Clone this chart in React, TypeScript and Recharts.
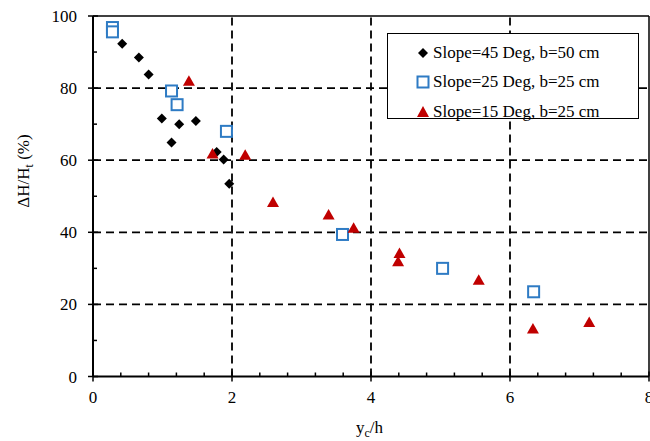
import React from "react";
import { ScatterChart, Scatter, XAxis, YAxis, ReferenceLine, Legend } from "recharts";

const s45X = [0.42, 0.66, 0.8, 0.99, 1.13, 1.24, 1.48, 1.78, 1.88, 1.96];
const s45Y = [92.3, 88.5, 83.8, 71.6, 64.9, 70.0, 70.9, 62.3, 60.2, 53.5];
const s25X = [0.28, 0.28, 1.13, 1.21, 1.92, 3.59, 5.03, 6.34];
const s25Y = [96.8, 95.6, 79.2, 75.4, 68.0, 39.4, 30.0, 23.5];
const s15X = [1.38, 1.72, 2.19, 2.59, 3.39, 3.75, 4.41, 4.39, 5.55, 6.33, 7.14];
const s15Y = [81.9, 61.7, 61.4, 48.3, 44.8, 41.1, 34.1, 31.8, 26.7, 13.2, 15.0];

const xTicks = [0, 0.4, 0.8, 1.2, 1.6, 2, 2.4, 2.8, 3.2, 3.6, 4, 4.4, 4.8, 5.2, 5.6, 6, 6.4, 6.8, 7.2, 7.6, 8];
const xMajor = [0, 2, 4, 6, 8];
const yTicks = [0, 10, 20, 30, 40, 50, 60, 70, 80, 90, 100];
const yMajor = [0, 20, 40, 60, 80, 100];
const gridX = [2, 4, 6];
const gridY = [20, 40, 60, 80];

const names = ["Slope=45 Deg, b=50 cm", "Slope=25 Deg, b=25 cm", "Slope=15 Deg, b=25 cm"];

const d45 = s45X.map((x, i) => ({ x, y: s45Y[i] }));
const d25 = s25X.map((x, i) => ({ x, y: s25Y[i] }));
const d15 = s15X.map((x, i) => ({ x, y: s15Y[i] }));

const FONT = "Liberation Serif";
const RED = "#c00000";
const BLUE = "#2e7bc4";

const Diamond = (p: any) => {
  const { cx, cy } = p;
  const r = 5;
  return <path d={`M${cx},${cy - r}L${cx + r},${cy}L${cx},${cy + r}L${cx - r},${cy}Z`} fill="#000" />;
};
const Square = (p: any) => {
  const { cx, cy } = p;
  const h = 5.5;
  return <rect x={cx - h} y={cy - h} width={2 * h} height={2 * h} fill="#fff" stroke={BLUE} strokeWidth={2} />;
};
const Triangle = (p: any) => {
  const { cx, cy } = p;
  return <path d={`M${cx},${cy - 6}L${cx + 6},${cy + 4.5}L${cx - 6},${cy + 4.5}Z`} fill={RED} />;
};

const XTick = (p: any) => {
  const { x, y, payload } = p;
  const major = xMajor.includes(payload.value);
  return (
    <g>
      <line x1={x} x2={x} y1={major ? y - 5 : y - 4} y2={major ? y + 5 : y} stroke="#000" strokeWidth={1.5} />
      {major && (
        <text x={x} y={y + 26} textAnchor="middle" fontFamily={FONT} fontSize={17} fill="#000">
          {payload.value}
        </text>
      )}
    </g>
  );
};
const YTick = (p: any) => {
  const { x, y, payload } = p;
  const major = yMajor.includes(payload.value);
  return (
    <g>
      <line x1={major ? x - 5 : x} x2={major ? x + 5 : x + 4} y1={y} y2={y} stroke="#000" strokeWidth={1.5} />
      {major && (
        <text x={x - 16} y={y + 6} textAnchor="end" fontFamily={FONT} fontSize={17} fill="#000">
          {payload.value}
        </text>
      )}
    </g>
  );
};

const LegendBox = () => {
  const icons = [
    <path key="a" d="M9,3L14,8L9,13L4,8Z" fill="#000" />,
    <rect key="b" x={3.5} y={2.5} width={11} height={11} fill="#fff" stroke={BLUE} strokeWidth={2} />,
    <path key="c" d="M9,2L15,13L3,13Z" fill={RED} />,
  ];
  return (
    <div
      style={{
        width: 252,
        height: 86,
        border: "1.5px solid #000",
        background: "#fff",
        boxSizing: "border-box",
        paddingTop: 4,
        paddingLeft: 26,
        fontFamily: FONT,
        fontSize: 17,
        color: "#000",
      }}
    >
      {names.map((n, i) => (
        <div key={n} style={{ height: 29.5, display: "flex", alignItems: "center" }}>
          <svg width={18} height={16} style={{ display: "block" }}>
            {icons[i]}
          </svg>
          <span style={{ marginLeft: 1, whiteSpace: "nowrap" }}>{n}</span>
        </div>
      ))}
    </div>
  );
};

export default function App() {
  return (
    <div style={{ position: "absolute", left: 0, top: 0, width: 650, height: 441, background: "#fff" }}>
      <ScatterChart width={650} height={441} margin={{ top: 16, right: 1, bottom: 24.5, left: 0 }}>
        {gridX.map((v) => (
          <ReferenceLine key={"gx" + v} x={v} stroke="#000" strokeWidth={1.8} strokeDasharray="8 5" />
        ))}
        {gridY.map((v) => (
          <ReferenceLine key={"gy" + v} y={v} stroke="#000" strokeWidth={1.8} strokeDasharray="8 5" />
        ))}
        <ReferenceLine y={100} stroke="#000" strokeWidth={1.5} />
        <ReferenceLine x={8} stroke="#000" strokeWidth={1.5} />
        <XAxis
          type="number"
          dataKey="x"
          domain={[0, 8]}
          ticks={xTicks}
          interval={0}
          height={40}
          tickSize={0}
          tickMargin={0}
          tickLine={false}
          tick={<XTick />}
          axisLine={{ stroke: "#000", strokeWidth: 2 }}
          allowDataOverflow
          label={{
            content: () => (
              <text x={356} y={433} fontFamily={FONT} fontSize={17} fill="#000">
                y<tspan fontSize={12} dy={4}>c</tspan>
                <tspan dy={-4}>/h</tspan>
              </text>
            ),
          }}
        />
        <YAxis
          type="number"
          dataKey="y"
          domain={[0, 100]}
          ticks={yTicks}
          interval={0}
          width={93}
          tickSize={0}
          tickMargin={0}
          tickLine={false}
          tick={<YTick />}
          axisLine={{ stroke: "#000", strokeWidth: 2 }}
          allowDataOverflow
          label={{
            content: () => (
              <text
                x={0}
                y={0}
                transform="translate(29,171) rotate(-90)"
                textAnchor="middle"
                fontFamily={FONT}
                fontSize={17}
                fill="#000"
              >
                ΔH/H<tspan fontSize={12} dy={4}>t</tspan>
                <tspan dy={-4}> (%)</tspan>
              </text>
            ),
          }}
        />
        <Legend
          layout="vertical"
          align="center"
          verticalAlign="middle"
          content={<LegendBox />}
          wrapperStyle={{ position: "absolute", left: 387, top: 33, width: 252, height: 86 }}
        />
        <Scatter name={names[0]} data={d45} shape={Diamond} isAnimationActive={false} />
        <Scatter name={names[1]} data={d25} shape={Square} isAnimationActive={false} />
        <Scatter name={names[2]} data={d15} shape={Triangle} isAnimationActive={false} />
      </ScatterChart>
    </div>
  );
}
